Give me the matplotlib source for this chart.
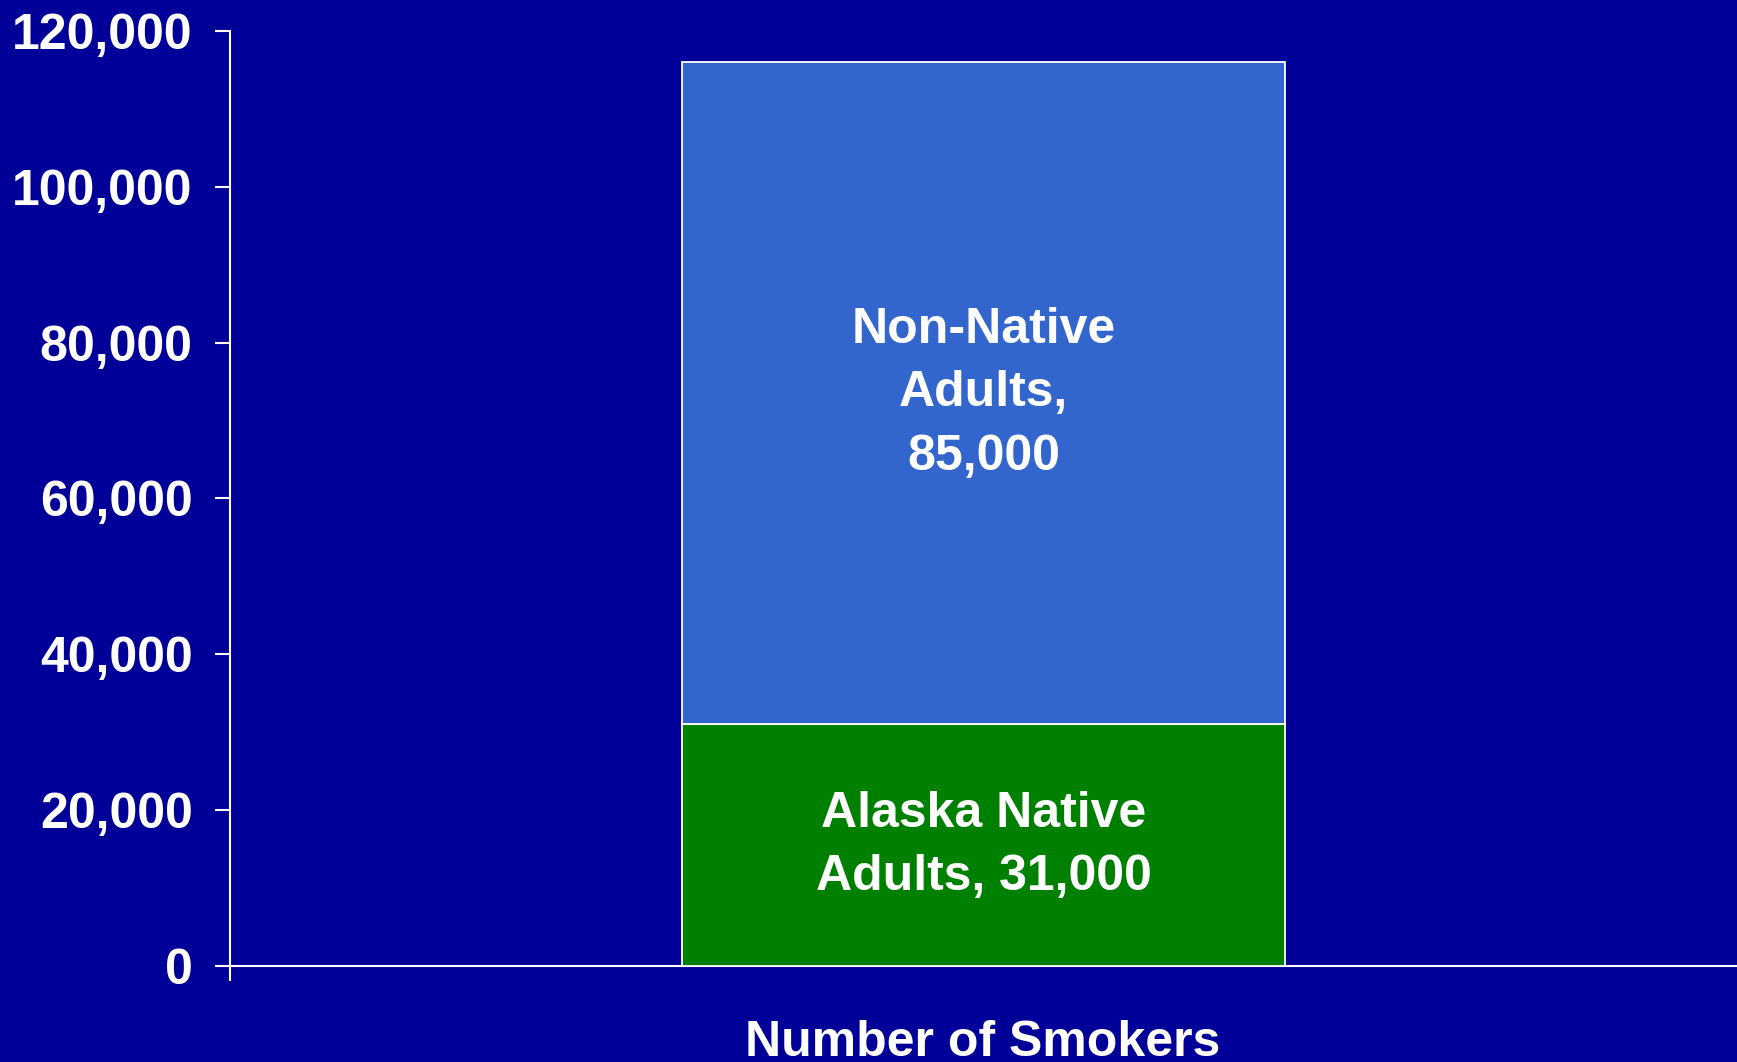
import matplotlib
matplotlib.use("Agg")
import matplotlib.pyplot as plt

# data
category = "Number of Smokers"
segments = ["Alaska Native\nAdults, 31,000", "Non-Native\nAdults,\n85,000"]
values = [31000, 85000]
colors = ["#008000", "#3366CC"]
yticks = [0, 20000, 40000, 60000, 80000, 100000, 120000]

bg = "#000099"
plt.rcParams["font.family"] = ["Liberation Sans", "DejaVu Sans"]
plt.rcParams["font.weight"] = "bold"

fig = plt.figure(figsize=(17.37, 10.62), dpi=100, facecolor=bg)
ax = fig.add_axes([230 / 1737, 96 / 1062, 1507 / 1737, 935 / 1062])
ax.set_facecolor(bg)

bottom = 0
for label, v, c in zip(segments, values, colors):
    ax.bar(0, v, width=0.4, bottom=bottom, color=c, edgecolor="white", linewidth=1.3, zorder=3)
    ax.text(0, bottom + v / 2, label, ha="center", va="center", color="white",
            fontsize=36, fontweight="bold", linespacing=1.48, zorder=4)
    bottom += v

ax.set_xlim(-0.5, 0.5)
ax.set_ylim(0, 120000)
ax.set_yticks(yticks)
ax.set_yticklabels([f"{t:,}" for t in yticks])
ax.set_xticks([-0.5])
ax.set_xticklabels([""])
ax.tick_params(axis="both", colors="white", direction="out", length=11, width=1.5,
               labelsize=36, pad=16)
for lab in ax.get_yticklabels():
    lab.set_fontweight("bold")

for s in ["top", "right"]:
    ax.spines[s].set_visible(False)
for s in ["left", "bottom"]:
    ax.spines[s].set_color("white")
    ax.spines[s].set_linewidth(1.5)

fig.text(983 / 1737, 42 / 1062, category, ha="center", va="top", color="white",
         fontsize=36, fontweight="bold")

fig.savefig("out.png", dpi=100, facecolor=bg)
